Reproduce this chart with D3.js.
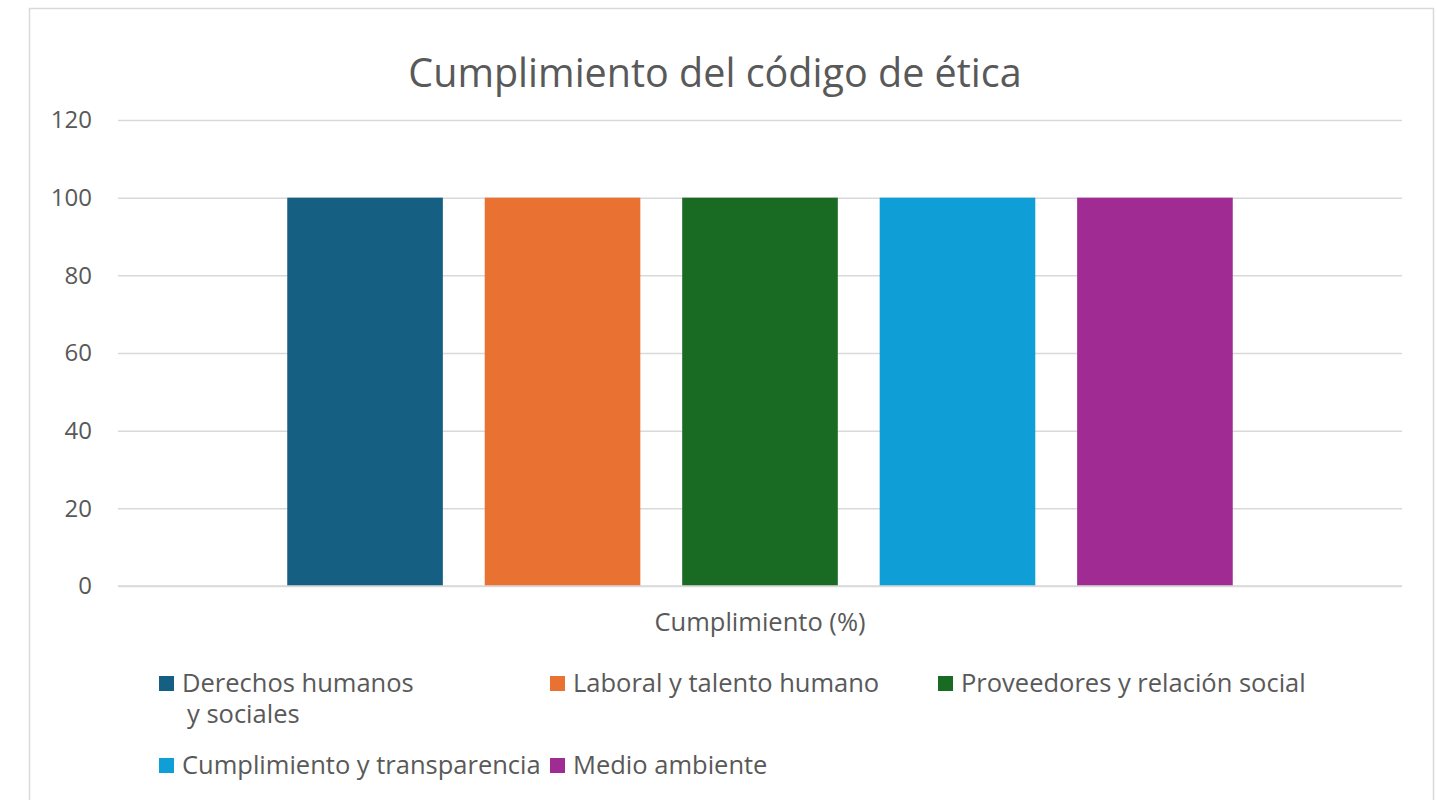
<!DOCTYPE html>
<html>
<head>
<meta charset="utf-8">
<script src="https://cdn.jsdelivr.net/npm/d3@7"></script>
<style>
  html, body { margin: 0; padding: 0; background: #fff; }
  svg { display: block; font-family: "Open Sans", "Liberation Sans", sans-serif; }
</style>
</head>
<body>
<svg id="chart" width="1437" height="800"></svg>
<script>
// data
var categories = ["Cumplimiento (%)"];
var seriesNames = [
  "Derechos humanos y sociales",
  "Laboral y talento humano",
  "Proveedores y relación social",
  "Cumplimiento y transparencia",
  "Medio ambiente"
];
var seriesValues = [100, 100, 100, 100, 100];
var seriesColors = ["#156082", "#E97132", "#196B24", "#0F9ED5", "#A02B93"];
var yTicks = [0, 20, 40, 60, 80, 100, 120];

(function () {
  var svg = d3.select("#chart");
  var textColor = "#595959";

  // chart frame
  svg.append("rect")
    .attr("x", 29.5).attr("y", 8.5)
    .attr("width", 1404).attr("height", 820)
    .attr("fill", "#fff").attr("stroke", "#d9d9d9").attr("stroke-width", 1.5);

  var m = { left: 118, right: 1402, top: 120, bottom: 586 };

  var y = d3.scaleLinear().domain([0, 120]).range([m.bottom, m.top]);
  var x0 = d3.scaleBand().domain(categories).range([m.left, m.right]).paddingInner(0).paddingOuter(0.179);
  var x1 = d3.scaleBand().domain(seriesNames).range([0, x0.bandwidth()]).paddingInner(0.212).paddingOuter(0);

  // title
  svg.append("text")
    .attr("x", 715).attr("y", 87)
    .attr("text-anchor", "middle")
    .attr("font-size", 39.5)
    .attr("fill", textColor)
    .text("Cumplimiento del código de ética");

  // gridlines + y ticks
  var yAxis = d3.axisLeft(y).tickValues(yTicks).tickSize(-(m.right - m.left)).tickPadding(26);
  var gy = svg.append("g").attr("transform", "translate(" + m.left + ",0)").call(yAxis);
  gy.select(".domain").remove();
  gy.selectAll(".tick line").attr("stroke", "#d9d9d9").attr("stroke-width", 1.5);
  gy.selectAll(".tick text").attr("font-size", 24).attr("fill", textColor)
    .attr("font-family", "\"Open Sans\", sans-serif");

  // bars
  var group = svg.append("g");
  categories.forEach(function (cat) {
    group.selectAll("rect.bar")
      .data(seriesNames.map(function (n, i) { return { name: n, value: seriesValues[i], color: seriesColors[i] }; }))
      .enter().append("rect")
      .attr("class", "bar")
      .attr("x", function (d) { return x0(cat) + x1(d.name); })
      .attr("y", function (d) { return y(d.value); })
      .attr("width", x1.bandwidth())
      .attr("height", function (d) { return y(0) - y(d.value); })
      .attr("fill", function (d) { return d.color; });
  });

  // zero line
  svg.append("line")
    .attr("x1", m.left).attr("x2", m.right)
    .attr("y1", y(0)).attr("y2", y(0))
    .attr("stroke", "#d9d9d9").attr("stroke-width", 1.5);

  // category label
  svg.append("text")
    .attr("x", x0(categories[0]) + x0.bandwidth() / 2).attr("y", 631)
    .attr("text-anchor", "middle")
    .attr("font-size", 25.5)
    .attr("fill", textColor)
    .text(categories[0]);

  // legend
  var legendPos = [
    { x: 159, y: 683.5, lines: ["Derechos humanos", "y sociales"] },
    { x: 550, y: 683.5, lines: ["Laboral y talento humano"] },
    { x: 938, y: 683.5, lines: ["Proveedores y relación social"] },
    { x: 159, y: 765.5, lines: ["Cumplimiento y transparencia"] },
    { x: 550, y: 765.5, lines: ["Medio ambiente"] }
  ];
  var leg = svg.append("g");
  legendPos.forEach(function (p, i) {
    leg.append("rect")
      .attr("x", p.x).attr("y", p.y - 7.5)
      .attr("width", 15).attr("height", 15)
      .attr("fill", seriesColors[i]);
    var t = leg.append("text")
      .attr("y", p.y + 8.5)
      .attr("font-size", 25.5)
      .attr("fill", textColor);
    p.lines.forEach(function (ln, j) {
      t.append("tspan")
        .attr("x", j === 0 ? p.x + 23 : p.x + 28)
        .attr("dy", j === 0 ? 0 : 31)
        .text(ln);
    });
  });
})();
</script>
</body>
</html>
